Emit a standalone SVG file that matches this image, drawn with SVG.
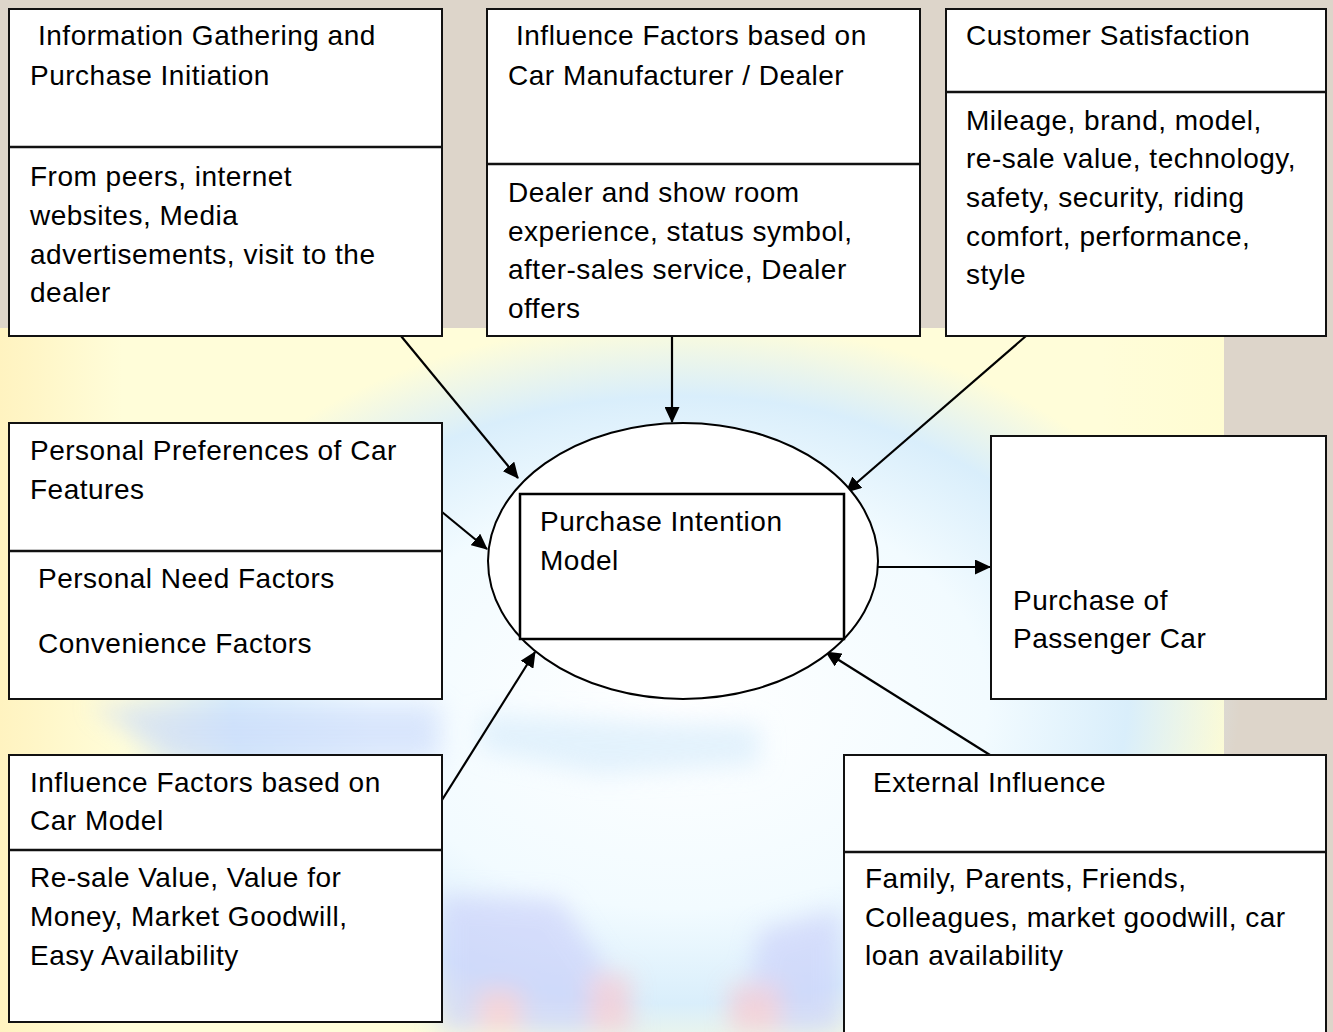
<svg xmlns="http://www.w3.org/2000/svg" width="1333" height="1032" viewBox="0 0 1333 1032">
<defs>
<style>
.box{fill:#ffffff;stroke:#111;stroke-width:2}
.div{stroke:#111;stroke-width:2.5}
.t{font-family:"Liberation Sans",Arial,sans-serif;font-size:28px;letter-spacing:0.5px;fill:#000}
.c{stroke:#000;stroke-width:2.2;fill:none;marker-end:url(#ah)}
</style>
<marker id="ah" viewBox="0 0 16 15" refX="15" refY="7.5" markerWidth="16" markerHeight="15" markerUnits="userSpaceOnUse" orient="auto">
<path d="M0,0 L16,7.5 L0,15 Z" fill="#000"/>
</marker>
<filter id="soft" x="-20%" y="-20%" width="140%" height="140%">
<feGaussianBlur stdDeviation="12"/>
</filter>
<radialGradient id="globe" cx="0.5" cy="0.5" r="0.5">
<stop offset="0" stop-color="#ffffff"/>
<stop offset="0.55" stop-color="#f2fbff"/>
<stop offset="0.8" stop-color="#d9eefb"/>
<stop offset="1" stop-color="#d9eefb" stop-opacity="0"/>
</radialGradient>
<linearGradient id="yel" x1="0" y1="0" x2="1" y2="0">
<stop offset="0" stop-color="#fff3c0"/>
<stop offset="0.1" stop-color="#fffdd9"/>
<stop offset="0.9" stop-color="#fffdd9"/>
<stop offset="1" stop-color="#fffcd2"/>
</linearGradient>
</defs>
<rect width="1333" height="1032" fill="#ddd5ca"/>
<rect x="0" y="328" width="1224" height="704" fill="url(#yel)"/>
<ellipse cx="680" cy="700" rx="560" ry="380" fill="url(#globe)"/>
<g opacity="0.6" filter="url(#soft)">
<path d="M90,705 L440,705 L440,760 L170,760 Z" fill="#c8d8fb"/>
<path d="M480,715 L760,725 L760,765 L600,775 L480,750 Z" fill="#d3eafb"/>
<path d="M440,895 L560,900 L600,960 L640,1032 L440,1032 Z" fill="#c9cdfa"/>
<path d="M760,930 L840,910 L840,1032 L740,1032 Z" fill="#c9cdfa"/>
<rect x="590" y="975" width="40" height="57" fill="#ffc0c8"/>
<rect x="730" y="985" width="50" height="47" fill="#ffc0c8"/>
<rect x="480" y="990" width="40" height="42" fill="#ffc0c8"/>
</g>

<g id="connectors">
<line class="c" x1="401" y1="336" x2="518" y2="478"/>
<line class="c" x1="672" y1="336" x2="672" y2="422"/>
<line class="c" x1="1026" y1="336" x2="846" y2="492"/>
<line class="c" x1="442" y1="512" x2="487" y2="549"/>
<line class="c" x1="442" y1="800" x2="535" y2="652"/>
<line class="c" x1="990" y1="755" x2="826" y2="652"/>
<line class="c" x1="878" y1="567" x2="990" y2="567"/>
</g>

<g id="n-info">
<rect class="box" x="9" y="9" width="433" height="327"/>
<line class="div" x1="9" y1="147" x2="442" y2="147"/>
<text class="t" x="38" y="45">Information Gathering and</text>
<text class="t" x="30" y="85">Purchase Initiation</text>
<text class="t" x="30" y="186">From peers, internet</text>
<text class="t" x="30" y="225">websites, Media</text>
<text class="t" x="30" y="264">advertisements, visit to the</text>
<text class="t" x="30" y="302">dealer</text>
</g>

<g id="n-manufacturer">
<rect class="box" x="487" y="9" width="433" height="327"/>
<line class="div" x1="487" y1="164" x2="920" y2="164"/>
<text class="t" x="516" y="45">Influence Factors based on</text>
<text class="t" x="508" y="85">Car Manufacturer / Dealer</text>
<text class="t" x="508" y="202">Dealer and show room</text>
<text class="t" x="508" y="241">experience, status symbol,</text>
<text class="t" x="508" y="279">after-sales service, Dealer</text>
<text class="t" x="508" y="318">offers</text>
</g>

<g id="n-satisfaction">
<rect class="box" x="946" y="9" width="380" height="327"/>
<line class="div" x1="946" y1="92" x2="1326" y2="92"/>
<text class="t" x="966" y="45">Customer Satisfaction</text>
<text class="t" x="966" y="130">Mileage, brand, model,</text>
<text class="t" x="966" y="168">re-sale value, technology,</text>
<text class="t" x="966" y="207">safety, security, riding</text>
<text class="t" x="966" y="246">comfort, performance,</text>
<text class="t" x="966" y="284">style</text>
</g>

<g id="n-personal">
<rect class="box" x="9" y="423" width="433" height="276"/>
<line class="div" x1="9" y1="551" x2="442" y2="551"/>
<text class="t" x="30" y="460">Personal Preferences of Car</text>
<text class="t" x="30" y="499">Features</text>
<text class="t" x="38" y="588">Personal Need Factors</text>
<text class="t" x="38" y="653">Convenience Factors</text>
</g>

<g id="n-model">
<rect class="box" x="9" y="755" width="433" height="267"/>
<line class="div" x1="9" y1="850" x2="442" y2="850"/>
<text class="t" x="30" y="792">Influence Factors based on</text>
<text class="t" x="30" y="830">Car Model</text>
<text class="t" x="30" y="887">Re-sale Value, Value for</text>
<text class="t" x="30" y="926">Money, Market Goodwill,</text>
<text class="t" x="30" y="965">Easy Availability</text>
</g>

<g id="n-external">
<rect class="box" x="844" y="755" width="482" height="290"/>
<line class="div" x1="844" y1="852" x2="1326" y2="852"/>
<text class="t" x="873" y="792">External Influence</text>
<text class="t" x="865" y="888">Family, Parents, Friends,</text>
<text class="t" x="865" y="927">Colleagues, market goodwill, car</text>
<text class="t" x="865" y="965">loan availability</text>
</g>

<g id="n-purchase">
<rect class="box" x="991" y="436" width="335" height="263"/>
<text class="t" x="1013" y="610">Purchase of</text>
<text class="t" x="1013" y="648">Passenger Car</text>
</g>

<g id="n-intention">
<ellipse cx="683" cy="561" rx="195" ry="138" fill="#fff" stroke="#000" stroke-width="2"/>
<rect x="520" y="494" width="324" height="145" fill="#fff" stroke="#000" stroke-width="2.5"/>
<text class="t" x="540" y="531">Purchase Intention</text>
<text class="t" x="540" y="570">Model</text>
</g>
</svg>
